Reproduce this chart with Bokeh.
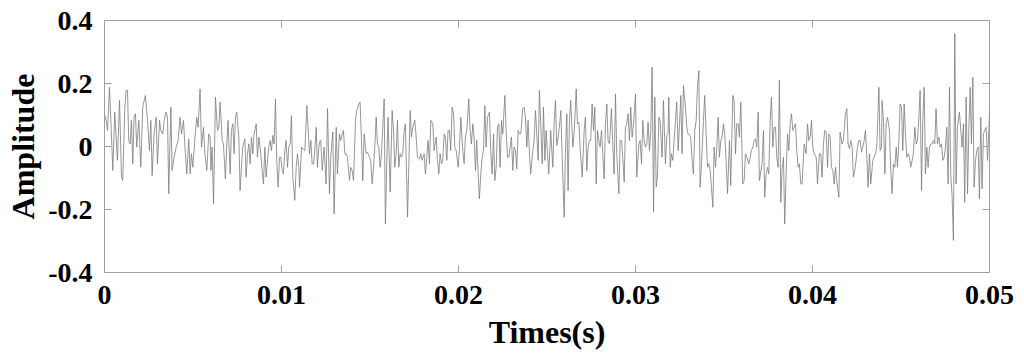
import math
from bokeh.plotting import figure
from bokeh.models import Range1d, FixedTicker
from bokeh.embed import file_html
from bokeh.resources import INLINE

# ---- signal (time in ms, amplitude) ----
seg1_t = [0.00,0.09,0.17,0.28,0.36,0.47,0.58,0.73,0.85,0.96,1.03,1.15,1.22,1.30,1.37,1.45,1.52,1.60,1.67,1.75,1.82,1.94,2.05,2.16,2.31,2.43,2.54,2.62,2.69,2.80,2.92,2.99,3.11,3.18,3.29,3.37,3.48,3.56,3.63,3.75,3.82,3.93,4.05,4.16,4.27,4.35,4.46,4.57,4.65,4.76,4.84,4.91,4.99,5.10,5.21,5.29,5.40,5.48,5.59,5.67,5.78,5.89,5.97]
seg1_a = [0.104,0.083,0.051,0.188,0.083,-0.076,0.109,-0.044,0.146,-0.097,-0.108,0.125,0.178,0.178,0.019,0.008,0.083,-0.055,0.093,0.104,-0.002,0.083,-0.066,0.125,0.162,0.083,-0.013,0.083,-0.092,0.040,0.093,-0.055,0.083,0.051,0.040,0.083,0.109,0.093,-0.150,0.125,-0.076,-0.034,-0.002,0.019,0.093,0.040,0.083,-0.023,-0.087,0.024,-0.087,-0.023,-0.066,0.019,0.093,0.061,0.183,-0.002,0.061,-0.023,-0.076,0.040,0.030]

seg2_t = [6.01,6.08,6.16,6.27,6.38,6.46,6.53,6.65,6.72,6.83,6.91,6.98,7.10,7.17,7.25,7.32,7.40,7.47,7.51,7.59,7.66,7.74,7.81,7.93,8.00,8.08,8.15,8.23,8.30,8.38,8.45,8.57,8.64,8.72,8.83,8.91,8.98,9.06,9.13,9.21,9.28,9.36,9.43,9.51,9.58,9.66,9.73,9.81,9.89,9.96,10.04,10.11,10.19,10.26,10.34,10.41,10.49,10.56,10.64,10.75,10.83,10.90,10.98,11.02,11.13,11.20,11.32,11.43,11.50,11.58,11.66,11.73,11.81,11.88,11.96,12.03,12.11,12.18]
seg2_a = [-0.076,-0.002,-0.182,0.157,0.051,0.061,0.141,0.019,0.008,-0.103,0.008,0.083,-0.087,0.051,0.072,-0.023,0.093,0.109,0.083,0.030,-0.140,-0.066,-0.002,0.024,-0.097,-0.023,0.008,-0.055,0.030,-0.023,0.040,0.072,-0.034,0.030,-0.023,-0.076,-0.119,-0.002,-0.097,-0.044,-0.002,0.019,-0.013,0.035,0.008,0.151,-0.044,-0.129,-0.034,-0.034,-0.076,-0.087,-0.013,0.019,-0.066,-0.002,0.008,0.098,-0.097,-0.171,-0.066,-0.023,-0.066,-0.129,-0.002,-0.007,-0.013,0.130,0.061,-0.023,0.019,-0.055,-0.055,-0.013,0.061,-0.066,-0.002,0.019]

seg3_t = [12.22,12.30,12.41,12.52,12.60,12.71,12.78,12.90,12.97,13.09,13.16,13.27,13.35,13.43,13.50,13.58,13.65,13.73,13.84,13.91,13.99,14.07,14.18,14.25,14.37,14.44,14.52,14.59,14.67,14.78,14.86,14.97,15.04,15.12,15.20,15.27,15.35,15.42,15.50,15.57,15.65,15.80,15.87,15.95,16.02,16.14,16.25,16.33,16.40,16.48,16.55,16.63,16.70,16.78,16.85,16.93,17.00,17.12,17.19,17.27,17.34,17.42,17.53,17.61,17.68,17.79,17.87,17.94,18.06,18.13,18.21,18.28,18.36]
seg3_a = [0.019,-0.076,-0.002,-0.119,0.120,-0.150,-0.034,0.046,-0.214,0.061,-0.087,0.040,0.019,0.040,0.051,-0.023,-0.023,-0.034,-0.108,-0.066,-0.076,-0.108,0.083,0.114,0.135,0.141,0.019,-0.108,0.040,-0.023,-0.018,-0.034,-0.044,-0.119,-0.066,-0.002,0.093,0.008,-0.002,-0.066,-0.023,0.151,-0.246,-0.044,0.093,-0.145,0.114,0.051,-0.066,-0.023,0.083,-0.066,-0.023,-0.034,-0.023,0.051,0.072,-0.224,-0.066,0.114,0.030,0.061,0.083,0.030,-0.034,-0.039,-0.023,-0.044,-0.023,-0.087,-0.034,0.019,-0.055]

seg4_t = [18.44,18.55,18.62,18.74,18.81,18.89,18.96,19.04,19.11,19.19,19.26,19.34,19.41,19.49,19.56,19.64,19.72,19.79,19.87,19.98,20.05,20.13,20.24,20.32,20.39,20.47,20.58,20.66,20.73,20.81,20.88,20.96,21.03,21.11,21.18,21.26,21.34,21.41,21.49,21.56,21.64,21.75,21.82,21.90,21.98,22.05,22.13,22.20,22.28,22.35,22.43,22.50,22.62,22.69,22.77,22.84,22.92,22.99,23.07,23.14,23.22,23.29,23.37,23.44,23.52,23.63,23.71,23.78,23.86,23.93,24.01,24.08,24.20,24.27,24.35,24.42,24.50,24.57]
seg4_a = [0.083,0.072,-0.013,0.030,-0.044,-0.087,-0.023,-0.055,-0.044,0.040,0.030,-0.044,0.051,0.051,-0.013,0.125,0.104,-0.002,-0.013,-0.066,-0.013,0.093,-0.013,-0.055,0.030,0.051,0.151,0.051,0.008,0.072,0.030,-0.076,0.019,-0.087,-0.166,-0.087,-0.034,-0.013,0.130,-0.002,0.093,0.109,-0.013,-0.087,0.040,-0.108,-0.066,0.061,0.072,-0.066,0.083,0.040,0.162,0.051,-0.034,-0.034,-0.002,0.030,-0.076,-0.002,-0.013,-0.071,0.051,0.040,0.040,0.120,0.125,0.093,-0.002,0.083,-0.023,-0.087,-0.013,0.019,0.114,0.040,-0.044,0.178]

seg5_t = [24.73,24.80,24.88,24.95,25.03,25.10,25.21,25.33,25.40,25.48,25.55,25.63,25.70,25.78,25.86,25.97,26.04,26.12,26.19,26.27,26.34,26.46,26.53,26.65,26.72,26.80,26.87,26.99,27.10,27.17,27.25,27.32,27.40,27.47,27.55,27.63,27.70,27.78,27.85,27.93,28.00,28.08,28.15,28.23,28.30,28.38,28.45,28.53,28.64,28.72,28.79,28.87,28.94,29.06,29.13,29.21,29.28,29.36,29.43,29.51,29.58,29.66,29.73,29.81,29.89,30.00,30.07,30.19,30.26,30.34,30.41,30.49,30.56,30.64,30.71,30.79]
seg5_a = [-0.055,0.125,-0.044,0.051,-0.023,-0.087,0.051,-0.066,0.072,0.146,0.003,0.030,0.061,0.114,-0.034,-0.224,-0.023,0.104,-0.140,0.083,0.146,-0.002,0.040,0.183,0.072,0.077,-0.002,-0.097,0.051,0.093,-0.076,-0.002,0.019,0.019,0.135,0.051,0.125,-0.119,0.051,0.019,-0.002,0.051,-0.023,-0.103,0.072,0.135,0.019,0.008,0.120,-0.002,-0.087,0.167,-0.023,-0.150,0.019,0.019,-0.034,-0.113,0.061,0.072,0.104,0.019,0.125,0.030,0.072,0.167,-0.097,0.008,0.019,-0.055,0.083,0.019,-0.002,0.008,0.077,-0.013]

seg6_t = [30.86,30.94,31.02,31.09,31.17,31.24,31.32,31.39,31.50,31.58,31.69,31.77,31.84,31.88,31.96,32.03,32.11,32.18,32.26,32.33,32.41,32.48,32.56,32.63,32.71,32.82,32.90,32.97,33.05,33.12,33.20,33.27,33.35,33.43,33.50,33.58,33.65,33.73,33.84,33.91,33.99,34.07,34.14,34.22,34.29,34.37,34.44,34.52,34.59,34.67,34.74,34.82,34.89,34.97,35.04,35.12,35.20,35.31,35.38,35.50,35.57,35.65,35.72,35.80,35.87,35.95,36.06,36.14,36.21,36.29,36.40,36.48,36.55,36.63,36.70,36.78,36.85,36.93,37.00]
seg6_a = [0.051,0.252,-0.208,0.157,-0.129,-0.097,0.093,0.083,-0.034,0.146,-0.055,0.035,0.040,0.157,-0.066,-0.023,-0.044,0.019,0.083,0.141,-0.013,0.061,0.162,-0.023,0.194,0.125,0.061,0.040,0.035,0.030,-0.044,-0.087,0.051,0.083,0.188,0.241,-0.129,-0.055,0.083,0.162,0.040,-0.066,-0.055,-0.076,-0.129,-0.193,-0.002,-0.066,-0.002,0.093,-0.034,0.019,0.030,0.072,0.040,-0.044,-0.150,0.019,-0.124,0.162,0.146,-0.023,0.072,0.072,0.030,0.141,-0.119,-0.108,-0.023,-0.034,-0.055,-0.034,-0.013,-0.002,0.019,0.024,-0.002,0.109,-0.108]

seg7_t = [37.15,37.23,37.30,37.38,37.46,37.53,37.61,37.68,37.76,37.83,37.91,37.98,38.06,38.13,38.21,38.28,38.36,38.43,38.51,38.59,38.66,38.74,38.81,38.89,38.96,39.04,39.11,39.19,39.26,39.34,39.41,39.53,39.64,39.72,39.79,39.87,39.94,40.02,40.09,40.21,40.28,40.39,40.47,40.54,40.62,40.69,40.77,40.85,40.92,41.00,41.07,41.15,41.22,41.30,41.37,41.49,41.56,41.67,41.75,41.86,41.94,42.01,42.09,42.16,42.24,42.31,42.39,42.46,42.54,42.62,42.69,42.77,42.84,42.92,42.99,43.07,43.14,43.22]
seg7_a = [-0.055,0.051,-0.161,-0.087,-0.066,-0.087,0.083,0.157,-0.002,0.061,0.061,-0.034,-0.066,0.210,-0.177,-0.076,-0.034,-0.246,-0.087,0.040,-0.013,0.072,0.104,0.051,0.061,0.072,-0.013,-0.066,-0.055,-0.119,-0.119,0.008,-0.023,0.072,0.019,0.030,0.083,-0.002,-0.023,-0.034,-0.119,-0.023,-0.023,-0.097,0.008,0.051,0.046,-0.066,0.040,0.030,-0.066,-0.076,-0.119,-0.066,-0.108,-0.161,0.046,0.008,0.019,0.104,0.120,0.008,-0.007,0.019,-0.002,-0.097,-0.076,-0.044,-0.002,0.019,0.019,-0.018,-0.002,0.019,0.051,-0.034,-0.129,-0.023]

seg8_t = [43.29,43.41,43.48,43.56,43.63,43.75,43.82,43.90,43.93,44.01,44.09,44.16,44.24,44.35,44.42,44.50,44.57,44.65,44.73,44.80,44.88,44.95,45.03,45.10,45.18,45.25,45.33,45.40,45.48,45.55,45.63,45.70,45.78,45.86,45.93,46.01,46.08,46.16,46.23,46.31,46.38,46.46,46.53,46.61,46.68,46.76,46.83,46.91,46.98,47.06,47.14,47.21,47.29,47.36,47.44,47.51,47.59,47.66,47.74,47.81,47.89,47.96,48.04,48.11,48.19,48.30,48.38,48.45,48.53,48.60,48.68,48.76,48.83,48.91,48.98,49.06,49.13,49.21,49.28,49.36,49.43,49.51,49.58,49.66,49.73,49.81,49.89,49.96,50.00]
seg8_a = [-0.119,-0.044,-0.034,-0.023,-0.002,0.188,-0.013,-0.002,0.146,0.083,-0.087,0.072,0.093,0.051,-0.076,-0.150,-0.055,-0.066,-0.002,-0.066,0.019,0.135,0.125,-0.013,0.135,0.040,-0.034,-0.023,-0.034,-0.066,-0.044,-0.023,0.061,0.008,0.019,0.093,0.178,-0.140,0.083,0.188,-0.087,-0.002,-0.066,-0.002,0.008,0.008,0.019,0.008,0.120,0.008,0.030,-0.002,0.008,-0.044,-0.034,-0.002,0.061,-0.119,0.188,-0.087,-0.161,-0.298,0.358,-0.119,0.061,0.109,0.051,-0.002,0.072,-0.177,0.157,-0.150,0.051,0.188,0.008,0.220,-0.129,-0.044,-0.013,-0.002,-0.166,0.093,-0.134,0.040,0.051,0.061,-0.044,0.051,0.114]

x_min, x_max = 0.0, 0.05
y_min, y_max = -0.4, 0.4
x_ticks = [0, 0.01, 0.02, 0.03, 0.04, 0.05]
x_tick_labels = ["0", "0.01", "0.02", "0.03", "0.04", "0.05"]
y_ticks = [-0.4, -0.2, 0, 0.2, 0.4]
y_tick_labels = ["-0.4", "-0.2", "0", "0.2", "0.4"]
x_label = "Times(s)"
y_label = "Amplitude"

seg_t = [seg1_t, seg2_t, seg3_t, seg4_t, seg5_t, seg6_t, seg7_t, seg8_t]
seg_a = [seg1_a, seg2_a, seg3_a, seg4_a, seg5_a, seg6_a, seg7_a, seg8_a]
time_s, amplitude = [], []
for k, (ts, vs) in enumerate(zip(seg_t, seg_a)):
    if len(ts) != len(vs):
        raise ValueError(f"segment {k+1}: {len(ts)} times vs {len(vs)} values")
    time_s += [t / 1000.0 for t in ts]
    amplitude += vs

FONT = "Liberation Serif"
GREY = "#a0a0a0"
TICK = 7

p = figure(width=1016, height=356,
           x_range=Range1d(x_min, x_max), y_range=Range1d(y_min, y_max),
           output_backend="svg", toolbar_location=None,
           min_border_left=104, min_border_right=27,
           min_border_top=20, min_border_bottom=84,
           background_fill_color="white", border_fill_color="white")
p.line(time_s, amplitude, line_color="#7c7c7c", line_width=0.8)

p.grid.visible = False
p.outline_line_color = GREY
p.outline_line_width = 1

# inward ticks on the top and right edges of the box
p.ray(x=x_ticks, y=[y_max] * len(x_ticks), length=TICK, length_units="screen",
      angle=-math.pi / 2, line_color=GREY, line_width=1)
p.ray(x=[x_max] * len(y_ticks), y=y_ticks, length=TICK, length_units="screen",
      angle=math.pi, line_color=GREY, line_width=1)

def style_axis(ax, ticks, labels):
    ax.ticker = FixedTicker(ticks=ticks)
    ax.major_label_overrides = dict(zip(ticks, labels))
    ax.minor_tick_line_color = None
    ax.major_tick_in = TICK
    ax.major_tick_out = 0
    ax.axis_line_color = GREY
    ax.major_tick_line_color = GREY
    ax.major_label_text_font = FONT
    ax.major_label_text_font_style = "bold"
    ax.major_label_text_font_size = "28px"
    ax.major_label_text_color = "black"
    ax.axis_label_text_font = FONT
    ax.axis_label_text_font_style = "bold"
    ax.axis_label_text_font_size = "32px"
    ax.axis_label_text_color = "black"

xa = p.xaxis[0]
style_axis(xa, x_ticks, x_tick_labels)
xa.axis_label = x_label
xa.major_label_standoff = 13
xa.axis_label_standoff = 7

ya = p.yaxis[0]
style_axis(ya, y_ticks, y_tick_labels)
ya.axis_label = y_label
ya.major_label_standoff = 12
ya.axis_label_standoff = 4

open("out.html", "w").write(file_html(p, INLINE))
